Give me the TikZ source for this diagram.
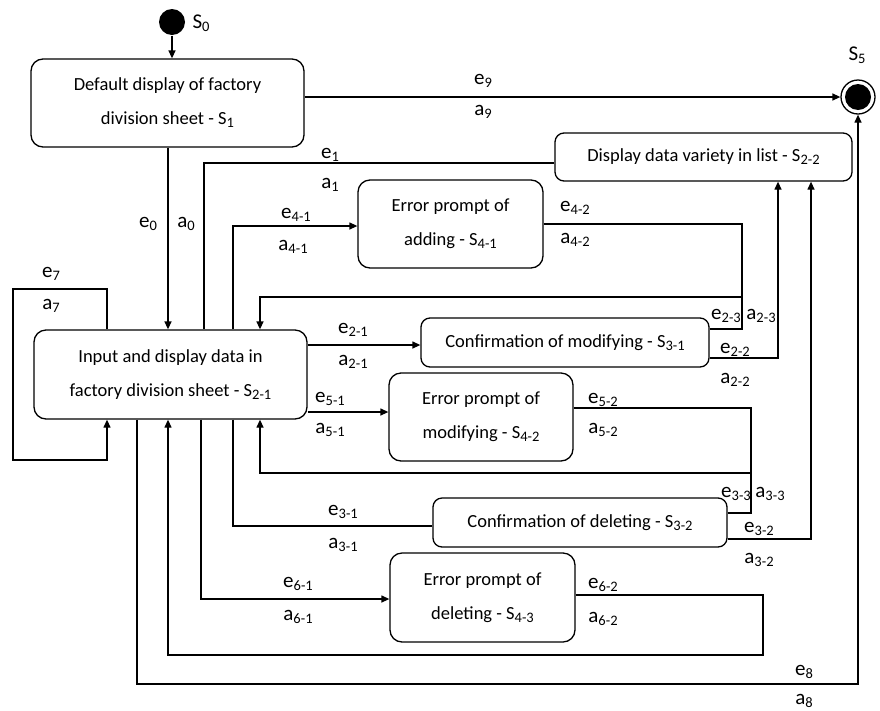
\documentclass[tikz,border=0pt]{standalone}
\usepackage{fontspec}
\setmainfont{Carlito}
\usetikzlibrary{arrows.meta}
% lowered, smaller index text for state and event names
\newcommand\ssb[1]{\raisebox{-3pt}{\fontsize{14.5}{14.5}\selectfont#1}}

\begin{document}
\begin{tikzpicture}[x=1pt,y=-1pt,
  line width=1.3pt,
  arr/.style={-{Triangle[length=8pt,width=7pt]}},
  state/.style={draw,rounded corners=12pt,inner sep=0pt,align=center,
    font=\fontsize{18.5}{34}\selectfont},
  flat/.style={state,rounded corners=9pt},
  lbl/.style={anchor=base,inner sep=0pt,font=\fontsize{21}{22}\selectfont}]
\useasboundingbox (0,0) rectangle (880,710);

% ---- states ----
\node[circle,fill,inner sep=0pt,minimum size=26pt] (s0) at (172,22) {};
\node[lbl] (ls0) at (201,28) {S\ssb{0}};

\node[circle,draw,inner sep=0pt,minimum size=34pt] (s5) at (858,97) {};
\fill (s5.center) circle (13pt);
\node[lbl] (ls5) at (857,60) {S\ssb{5}};

\node[state,minimum width=273pt,minimum height=88pt] (s1) at (167.5,103)
  {Default display of factory\\division sheet - S\ssb{1}};
\node[flat,minimum width=297pt,minimum height=48pt] (s22) at (703.5,157)
  {Display data variety in list - S\ssb{2-2}};
\node[state,minimum width=185pt,minimum height=88pt] (s41) at (450.5,224)
  {Error prompt of\\adding - S\ssb{4-1}};
\node[flat,minimum width=288pt,minimum height=49pt] (s31) at (565,342.5)
  {Confirmation of modifying - S\ssb{3-1}};
\node[state,minimum width=273pt,minimum height=89pt] (s21) at (170.5,374.5)
  {Input and display data in\\factory division sheet - S\ssb{2-1}};
\node[state,minimum width=184pt,minimum height=88pt] (s42) at (481,417)
  {Error prompt of\\modifying - S\ssb{4-2}};
\node[flat,minimum width=294pt,minimum height=49pt] (s32) at (580,522.5)
  {Confirmation of deleting - S\ssb{3-2}};
\node[state,minimum width=185pt,minimum height=89pt] (s43) at (482.5,597.5)
  {Error prompt of\\deleting - S\ssb{4-3}};

% ---- transitions ----
\draw[arr] (s0) -- (s0 |- s1.north);
\draw[arr] (s1.east |- s5) -- (s5);
\draw[arr] (s1.south -| 168,0) -- (s21.north -| 168,0);
\draw (s21.north -| 204,0) |- (s22.west |- 0,163);
\draw[arr] (s21.north -| 233,0) |- (s41.west |- 0,226);
\draw[arr] (s41.east |- 0,224) -| (742,297) -| (s21.north -| 260,0);
\draw (s31.east |- 0,329) -| (742,297);
\draw[arr] (s31.east |- 0,358) -| (s22.south -| 778,0);
\draw[arr] (s21.east |- 0,345) -- (s31.west |- 0,345);
\draw[arr] (s21.north -| 107,0) -- (107,289) -| (13,460) -| (s21.south -| 107,0);
\draw[arr] (s21.east |- 0,412) -- (s42.west |- 0,412);
\draw[arr] (s42.east |- 0,408) -| (751,473) -| (s21.south -| 260,0);
\draw (s32.east |- 0,513) -| (751,473);
\draw (s21.south -| 233,0) |- (s32.west |- 0,526);
\draw[arr] (s32.east |- 0,539) -| (s22.south -| 811,0);
\draw[arr] (s21.south -| 201,0) |- (s43.west |- 0,599);
\draw[arr] (s43.east |- 0,595) -| (763,655) -| (s21.south -| 168,0);
\draw[arr] (s21.south -| 137,0) |- (s5 |- 0,684) -- (s5);

% ---- event / action labels ----
\node[lbl] (le0) at (148,227) {e\ssb{0}};
\node[lbl] (la0) at (186,227) {a\ssb{0}};
\node[lbl] (le9) at (483,84) {e\ssb{9}};
\node[lbl] (la9) at (483,115) {a\ssb{9}};
\node[lbl] (le1) at (330,158) {e\ssb{1}};
\node[lbl] (la1) at (330,188) {a\ssb{1}};
\node[lbl] (le41) at (296,218) {e\ssb{4-1}};
\node[lbl] (la41) at (293,250) {a\ssb{4-1}};
\node[lbl] (le42) at (575,211) {e\ssb{4-2}};
\node[lbl] (la42) at (575,243) {a\ssb{4-2}};
\node[lbl] (le7) at (51,277) {e\ssb{7}};
\node[lbl] (la7) at (51,309) {a\ssb{7}};
\node[lbl] (le21) at (353,333) {e\ssb{2-1}};
\node[lbl] (la21) at (353,365) {a\ssb{2-1}};
\node[lbl] (le23) at (726,319) {e\ssb{2-3}};
\node[lbl] (la23) at (761,319) {a\ssb{2-3}};
\node[lbl] (le22) at (735,353) {e\ssb{2-2}};
\node[lbl] (la22) at (735,383) {a\ssb{2-2}};
\node[lbl] (le51) at (330,402) {e\ssb{5-1}};
\node[lbl] (la51) at (330,433) {a\ssb{5-1}};
\node[lbl] (le52) at (603,403) {e\ssb{5-2}};
\node[lbl] (la52) at (603,433) {a\ssb{5-2}};
\node[lbl] (le33) at (736,497) {e\ssb{3-3}};
\node[lbl] (la33) at (770,497) {a\ssb{3-3}};
\node[lbl] (le31) at (343,515) {e\ssb{3-1}};
\node[lbl] (la31) at (343,548) {a\ssb{3-1}};
\node[lbl] (le32) at (759,532) {e\ssb{3-2}};
\node[lbl] (la32) at (759,563) {a\ssb{3-2}};
\node[lbl] (le61) at (298,587) {e\ssb{6-1}};
\node[lbl] (la61) at (298,620) {a\ssb{6-1}};
\node[lbl] (le62) at (603,588) {e\ssb{6-2}};
\node[lbl] (la62) at (603,622) {a\ssb{6-2}};
\node[lbl] (le8) at (804,675) {e\ssb{8}};
\node[lbl] (la8) at (804,704) {a\ssb{8}};
\end{tikzpicture}
\end{document}
